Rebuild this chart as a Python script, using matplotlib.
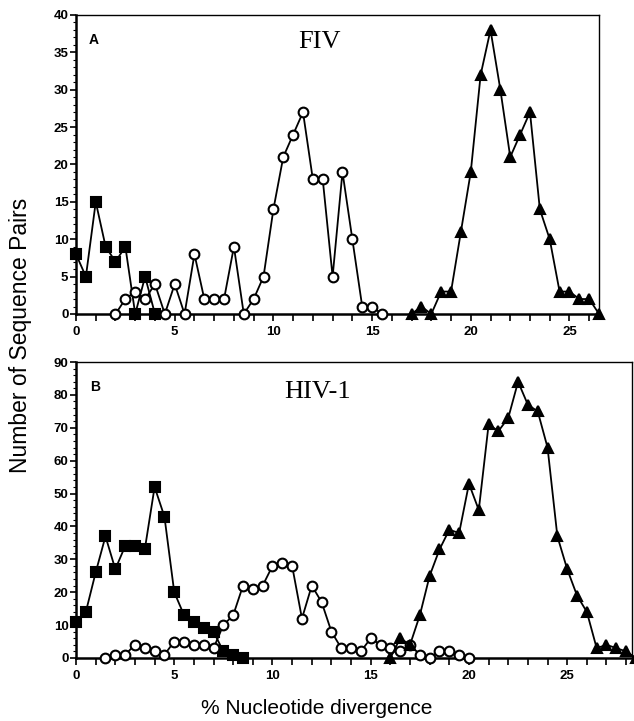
import numpy as np
import matplotlib
matplotlib.use("Agg")
import matplotlib.pyplot as plt
from matplotlib.ticker import MultipleLocator

# --- Panel A: FIV ---
fiv_sq_x = np.arange(0, 4.01, 0.5)
fiv_sq_y = [8, 5, 15, 9, 7, 9, 0, 5, 0]

fiv_ci_x = np.arange(2.0, 15.51, 0.5)
fiv_ci_y = [0, 2, 3, 2, 4, 0, 4, 0, 8, 2, 2, 2, 9, 0,
            2, 5, 14, 21, 24, 27, 18, 18, 5, 19, 10, 1, 1, 0]

fiv_tr_x = np.arange(17.0, 26.51, 0.5)
fiv_tr_y = [0, 1, 0, 3, 3, 11, 19, 32, 38, 30, 21, 24, 27, 14, 10, 3, 3, 2, 2, 0]

# --- Panel B: HIV-1 ---
hiv_sq_x = np.arange(0, 8.51, 0.5)
hiv_sq_y = [11, 14, 26, 37, 27, 34, 34, 33, 52, 43, 20, 13, 11, 9, 8, 2, 1, 0]

hiv_ci_x = np.arange(1.5, 20.01, 0.5)
hiv_ci_y = [0, 1, 1, 4, 3, 2, 1, 5, 5, 4, 4, 3, 10, 13, 22, 21, 22, 28, 29, 28,
            12, 22, 17, 8, 3, 3, 2, 6, 4, 3, 2, 4, 1, 0, 2, 2, 1, 0]

hiv_tr_x = np.arange(16.0, 28.51, 0.5)
hiv_tr_y = [0, 6, 4, 13, 25, 33, 39, 38, 53, 45, 71, 69, 73, 84, 77, 75, 64,
            37, 27, 19, 14, 3, 4, 3, 2, 0]

tick_font = {"family": "Liberation Sans", "size": 9.5, "weight": "bold"}


def draw_series(ax, x, y, marker, face):
    ax.plot(x, y, color="black", lw=1.3, marker=marker, ms=7,
            mfc=face, mec="black", mew=1.5, clip_on=False, zorder=3)


def style_axes(ax, xmax, ymax, ymajor, yminor):
    ax.set_xlim(0, xmax)
    ax.set_ylim(0, ymax)
    ax.xaxis.set_major_locator(MultipleLocator(5))
    ax.xaxis.set_minor_locator(MultipleLocator(1))
    ax.yaxis.set_major_locator(MultipleLocator(ymajor))
    ax.yaxis.set_minor_locator(MultipleLocator(yminor))
    ax.tick_params(axis="x", which="both", direction="out", length=5, width=1.2, pad=4)
    ax.tick_params(axis="y", which="major", direction="out", length=4, width=1.2, pad=1.5)
    ax.tick_params(axis="y", which="minor", direction="out", length=2, width=0.8)
    for lab in ax.get_xticklabels() + ax.get_yticklabels():
        lab.set_fontfamily(tick_font["family"])
        lab.set_fontsize(tick_font["size"])
        lab.set_fontweight(tick_font["weight"])
    ax.spines["left"].set_linewidth(1.8)
    ax.spines["bottom"].set_linewidth(1.8)
    ax.spines["top"].set_linewidth(1.0)
    ax.spines["right"].set_linewidth(1.0)


fig = plt.figure(figsize=(6.34, 7.21), dpi=100)
ax_a = fig.add_axes([0.1199, 0.5645, 0.825, 0.4147])
ax_b = fig.add_axes([0.1199, 0.0874, 0.877, 0.4105])

draw_series(ax_a, fiv_sq_x, fiv_sq_y, "s", "black")
draw_series(ax_a, fiv_ci_x, fiv_ci_y, "o", "white")
draw_series(ax_a, fiv_tr_x, fiv_tr_y, "^", "black")
style_axes(ax_a, 26.5, 40, 5, 1)

draw_series(ax_b, hiv_sq_x, hiv_sq_y, "s", "black")
draw_series(ax_b, hiv_ci_x, hiv_ci_y, "o", "white")
draw_series(ax_b, hiv_tr_x, hiv_tr_y, "^", "black")
style_axes(ax_b, 28.3, 90, 10, 2)

ax_a.text(0.025, 0.94, "A", transform=ax_a.transAxes, fontsize=10,
          fontweight="bold", family="Liberation Sans", va="top")
ax_b.text(0.025, 0.94, "B", transform=ax_b.transAxes, fontsize=10,
          fontweight="bold", family="Liberation Sans", va="top")
ax_a.text(0.465, 0.91, "FIV", transform=ax_a.transAxes, fontsize=19,
          family="Liberation Serif", ha="center", va="center")
ax_b.text(0.435, 0.9, "HIV-1", transform=ax_b.transAxes, fontsize=19,
          family="Liberation Serif", ha="center", va="center")

fig.text(0.032, 0.535, "Number of Sequence Pairs", rotation=90, fontsize=16.5,
         family="Liberation Sans", ha="center", va="center")
fig.text(0.50, 0.018, "% Nucleotide divergence", fontsize=15,
         family="Liberation Sans", ha="center", va="center")

fig.savefig("out.png", dpi=100)
